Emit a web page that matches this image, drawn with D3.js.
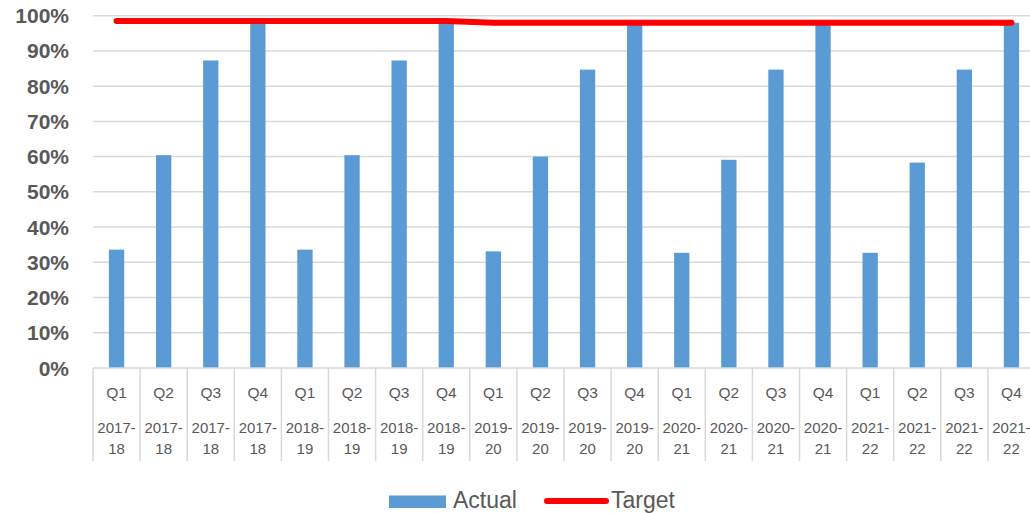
<!DOCTYPE html>
<html>
<head>
<meta charset="utf-8">
<script src="https://cdn.jsdelivr.net/npm/d3@7"></script>
<style>
  html, body { margin: 0; padding: 0; background: #fff; }
  svg { display: block; }
</style>
</head>
<body>
<svg id="chart" width="1030" height="513"></svg>
<script>
const quarters = ["Q1","Q2","Q3","Q4","Q1","Q2","Q3","Q4","Q1","Q2","Q3","Q4","Q1","Q2","Q3","Q4","Q1","Q2","Q3","Q4"];
const years = ["2017-18","2017-18","2017-18","2017-18","2018-19","2018-19","2018-19","2018-19","2019-20","2019-20","2019-20","2019-20","2020-21","2020-21","2020-21","2020-21","2021-22","2021-22","2021-22","2021-22"];
const actual = [33.6, 60.4, 87.3, 98, 33.6, 60.4, 87.3, 98, 33.1, 60.0, 84.7, 98, 32.7, 59.1, 84.7, 98, 32.7, 58.3, 84.7, 98];
const target = [98.5, 98.5, 98.5, 98.5, 98.5, 98.5, 98.5, 98.5, 98, 98, 98, 98, 98, 98, 98, 98, 98, 98, 98, 98];
const yTicks = [0, 10, 20, 30, 40, 50, 60, 70, 80, 90, 100];

(function () {
const svg = d3.select("#chart");
const plotLeft = 93, plotRight = 1035, plotTop = 15.7, plotBottom = 368;
const idx = d3.range(quarters.length);

const x = d3.scaleBand().domain(idx).range([plotLeft, plotRight]).paddingInner(0.675).paddingOuter(0.3375);
const y = d3.scaleLinear().domain([0, 100]).range([plotBottom, plotTop]);
const step = x.step();
const textColor = "#595959";
const gridColor = "#d9d9d9";
const font = "Liberation Sans, Arial, sans-serif";

// gridlines
svg.append("g").selectAll("line").data(yTicks.filter(d => d > 0)).join("line")
  .attr("x1", plotLeft).attr("x2", 1030)
  .attr("y1", d => y(d)).attr("y2", d => y(d))
  .attr("stroke", gridColor).attr("stroke-width", 1.5);

// y labels
svg.append("g").selectAll("text").data(yTicks).join("text")
  .attr("x", 69).attr("y", d => y(d))
  .attr("dy", "0.36em")
  .attr("text-anchor", "end")
  .attr("font-family", font)
  .attr("font-weight", "bold")
  .attr("font-size", 21)
  .attr("fill", textColor)
  .text(d => d + "%");

// bars
svg.append("g").selectAll("rect").data(idx).join("rect")
  .attr("x", i => x(i)).attr("width", x.bandwidth())
  .attr("y", i => y(actual[i])).attr("height", i => y(0) - y(actual[i]))
  .attr("fill", "#5b9bd5");

// axis baseline
svg.append("line").attr("x1", plotLeft).attr("x2", 1030).attr("y1", plotBottom).attr("y2", plotBottom)
  .attr("stroke", gridColor).attr("stroke-width", 1.5);

// category separators
svg.append("g").selectAll("line").data(d3.range(quarters.length + 1)).join("line")
  .attr("x1", i => plotLeft + i * step).attr("x2", i => plotLeft + i * step)
  .attr("y1", plotBottom).attr("y2", 461)
  .attr("stroke", gridColor).attr("stroke-width", 1.5);

const cx = i => x(i) + x.bandwidth() / 2;

// quarter labels
svg.append("g").selectAll("text").data(idx).join("text")
  .attr("x", cx).attr("y", 392).attr("dy", "0.36em")
  .attr("text-anchor", "middle")
  .attr("font-family", font)
  .attr("font-size", 15.5).attr("fill", textColor)
  .text(i => quarters[i]);

// year labels (two lines)
const yl = svg.append("g").selectAll("text").data(idx).join("text")
  .attr("text-anchor", "middle")
  .attr("font-family", font)
  .attr("font-size", 15).attr("fill", textColor);
yl.append("tspan").attr("x", cx).attr("y", 428).attr("dy", "0.36em").text(i => years[i].split("-")[0] + "-");
yl.append("tspan").attr("x", cx).attr("y", 449).attr("dy", "0.36em").text(i => years[i].split("-")[1]);

// target line
const line = d3.line().x(i => cx(i)).y(i => y(target[i]));
svg.append("path").datum(idx).attr("d", line)
  .attr("fill", "none").attr("stroke", "#ff0000").attr("stroke-width", 6)
  .attr("stroke-linecap", "round").attr("stroke-linejoin", "round");

// legend
const lg = svg.append("g");
lg.append("rect").attr("x", 389).attr("y", 495.5).attr("width", 57).attr("height", 12.5).attr("fill", "#5b9bd5");
lg.append("text").attr("x", 453).attr("y", 500).attr("dy", "0.36em")
  .attr("font-family", font).attr("font-size", 23).attr("fill", textColor)
  .text("Actual");
lg.append("line").attr("x1", 547).attr("x2", 606).attr("y1", 501).attr("y2", 501)
  .attr("stroke", "#ff0000").attr("stroke-width", 6).attr("stroke-linecap", "round");
lg.append("text").attr("x", 611).attr("y", 500).attr("dy", "0.36em")
  .attr("font-family", font).attr("font-size", 23).attr("fill", textColor)
  .text("Target");
})();
</script>
</body>
</html>
